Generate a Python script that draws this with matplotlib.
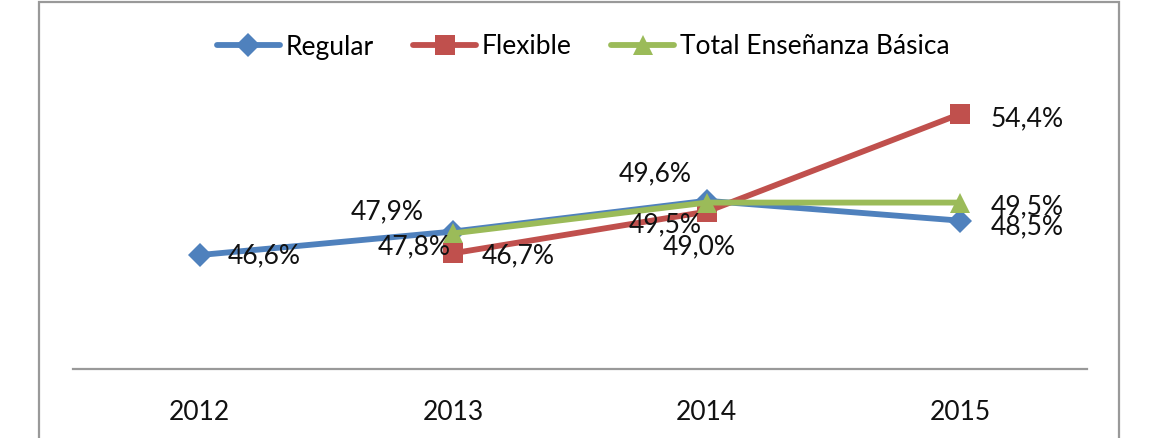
import matplotlib
matplotlib.use("Agg")
import matplotlib.pyplot as plt
from matplotlib.patches import Rectangle

plt.rcParams['font.family'] = ['Lato', 'DejaVu Sans']

years = ["2012", "2013", "2014", "2015"]
regular = [46.6, 47.9, 49.6, 48.5]
flexible = [None, 46.7, 49.0, 54.4]
total = [None, 47.8, 49.5, 49.5]
series_names = ["Regular", "Flexible", "Total Enseñanza Básica"]

# label offsets (pixels) and alignment per point - layout only
reg_off = [((28, -1), 'left'), ((-30, 20), 'right'), ((-52, 27), 'center'), ((30, -6), 'left')]
flex_off = [None, ((28, -3), 'left'), ((-44, -35), 'left'), ((30, -5), 'left')]
tot_off = [None, ((-3, -13), 'right'), ((-5, -22), 'right'), ((30, -4), 'left')]

W, H = 1153, 438
fig = plt.figure(figsize=(W / 100, H / 100), dpi=100)
fig.patch.set_facecolor('white')

# outer frame
fig.add_artist(Rectangle((39 / W, -0.05), (1119 - 39) / W, 1.05 - 2 / H,
                         transform=fig.transFigure, fill=False,
                         edgecolor='#999999', linewidth=1.6))

ax_left, ax_right = 73 / W, 1087 / W
ax_bottom, ax_top = (H - 369) / H, (H - 85) / H
ax = fig.add_axes([ax_left, ax_bottom, ax_right - ax_left, ax_top - ax_bottom])

x = list(range(len(years)))
colors = ['#4F81BD', '#C0504D', '#9BBB59']
markers = ['D', 's', '^']
msizes = [12, 14, 15]
all_series = [regular, flexible, total]
all_offs = [reg_off, flex_off, tot_off]

for i, (vals, name) in enumerate(zip(all_series, series_names)):
    xs = [xi for xi, v in zip(x, vals) if v is not None]
    ys = [v for v in vals if v is not None]
    ax.plot(xs, ys, color=colors[i], linewidth=4.2, marker=markers[i],
            markersize=msizes[i], markeredgewidth=0, label=name,
            solid_capstyle='round', zorder=2 + i)

for vals, offs in zip(all_series, all_offs):
    for xi, v, off in zip(x, vals, offs):
        if v is None:
            continue
        (dx, dy), ha = off
        ax.annotate(f"{v:.1f}%".replace('.', ','), (xi, v), xytext=(dx, dy),
                    textcoords='offset pixels', ha=ha, va='center',
                    fontsize=19, color='#111111', zorder=10)

ax.set_xlim(-0.5, 3.5)
ax.set_ylim(40.3, 56.0)
ax.set_xticks(x)
ax.set_xticklabels(years, fontsize=19, color='#111111')
ax.tick_params(axis='x', length=0, pad=22)
ax.set_yticks([])
for s in ['left', 'right', 'top']:
    ax.spines[s].set_visible(False)
ax.spines['bottom'].set_color('#999999')
ax.spines['bottom'].set_linewidth(1.6)
ax.set_facecolor('none')

fig.legend(loc='center', bbox_to_anchor=(583 / W, 1 - 47 / H), ncol=3,
           frameon=False, fontsize=19, handlelength=2.4, handletextpad=0.2,
           columnspacing=1.5, markerscale=1.0)

fig.savefig('out.png', dpi=100)
